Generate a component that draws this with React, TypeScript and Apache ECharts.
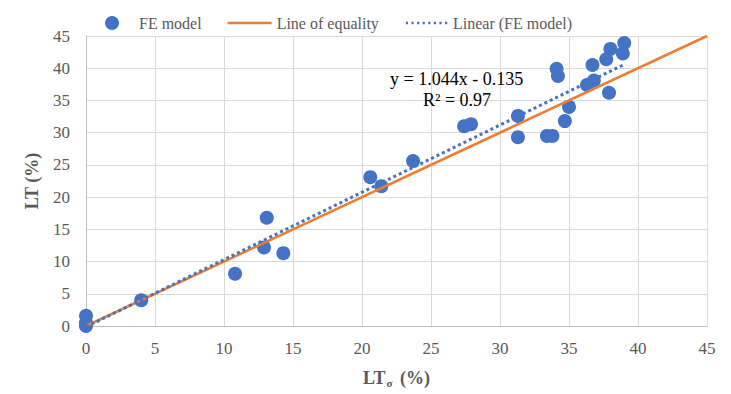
import React, { useEffect, useRef } from "react";
import * as echarts from "echarts";

const feX = [0, 0, 0, 0, 4, 10.8, 12.9, 13.1, 14.3, 20.6, 21.4, 23.7, 27.4, 27.9, 31.3, 31.3, 33.4, 33.8, 34.1, 34.2, 35.0, 34.7, 36.3, 36.8, 36.7, 37.7, 37.9, 38.0, 39.0, 38.9];
const feY = [1.6, 0.5, 0.2, 0, 4.0, 8.1, 12.2, 16.8, 11.3, 23.1, 21.7, 25.6, 31.0, 31.3, 32.6, 29.3, 29.5, 29.5, 39.9, 38.8, 34.0, 31.8, 37.4, 38.1, 40.5, 41.4, 36.2, 43.0, 43.9, 42.3];
const equalityX = [0, 45];
const trendX = [0, 39.1];
const slope = 1.044;
const intercept = -0.135;

const FONT = "Liberation Serif";
const TXT = "#595959";

const solidIcon = "path://M0 0H0.01V0.01H0Z M0 14H0.01V14.01H0Z M0 5.75H44V8.25H0Z";
const dotIcon =
  "path://M0 0H0.01V0.01H0Z M0 14H0.01V14.01H0Z " +
  Array.from({ length: 8 }, (_, i) => `M${1 + i * 5.6} 5.8H${3.2 + i * 5.6}V8.2H${1 + i * 5.6}Z`).join(" ");

export default function App() {
  const ref = useRef<HTMLDivElement>(null);
  useEffect(() => {
    if (!ref.current) return;
    const chart = echarts.init(ref.current, undefined, { renderer: "svg" });
    chart.setOption({
      animation: false,
      textStyle: { fontFamily: FONT },
      legend: {
        top: 10,
        left: 100,
        itemGap: 26,
        itemWidth: 44,
        itemHeight: 14,
        textStyle: { fontFamily: FONT, fontSize: 16, color: TXT },
        data: [
          { name: "FE model", icon: "circle", itemStyle: { color: "#4472C4", opacity: 1 } },
          { name: "Line of equality", icon: solidIcon, itemStyle: { color: "#ED7D31" } },
          { name: "Linear (FE model)", icon: dotIcon, itemStyle: { color: "#4472C4" } },
        ],
      },
      grid: { left: 86, right: 24, top: 36, bottom: 68 },
      xAxis: {
        type: "value",
        min: 0,
        max: 45,
        interval: 5,
        axisLine: { lineStyle: { color: "#bfbfbf" } },
        axisTick: { show: false },
        splitLine: { lineStyle: { color: "#d9d9d9", width: 1 } },
        axisLabel: { fontFamily: FONT, fontSize: 17, color: TXT, margin: 14 },
        name: "{b|LT}{s|σ}{b| (%)}",
        nameLocation: "middle",
        nameGap: 42,
        nameTextStyle: {
          fontFamily: FONT,
          rich: {
            b: { fontFamily: FONT, fontSize: 18, fontWeight: "bold", color: TXT, lineHeight: 20 },
            s: { fontFamily: FONT, fontSize: 11, fontWeight: "bold", color: TXT, lineHeight: 20, verticalAlign: "bottom", padding: [9, 3, 0, 1] },
          },
        },
      },
      yAxis: {
        type: "value",
        min: 0,
        max: 45,
        interval: 5,
        axisLine: { show: true, lineStyle: { color: "#bfbfbf" } },
        axisTick: { show: false },
        splitLine: { lineStyle: { color: "#d9d9d9", width: 1 } },
        axisLabel: { fontFamily: FONT, fontSize: 17, color: TXT, margin: 16 },
        name: "LT (%)",
        nameLocation: "middle",
        nameGap: 45,
        nameTextStyle: { fontFamily: FONT, fontSize: 18, fontWeight: "bold", color: TXT },
      },
      series: [
        {
          name: "FE model",
          type: "scatter",
          symbol: "circle",
          symbolSize: 14,
          itemStyle: { color: "#4472C4", opacity: 1 },
          data: feX.map((x, i) => [x, feY[i]]),
          z: 2,
        },
        {
          name: "Line of equality",
          type: "line",
          symbol: "none",
          lineStyle: { color: "#ED7D31", width: 2.5 },
          itemStyle: { color: "#ED7D31" },
          data: equalityX.map((x) => [x, x]),
          z: 3,
        },
        {
          name: "Linear (FE model)",
          type: "line",
          symbol: "none",
          lineStyle: { color: "#4472C4", width: 3, type: "dotted" },
          itemStyle: { color: "#4472C4" },
          data: trendX.map((x) => [x, slope * x + intercept]),
          z: 4,
        },
      ],
      graphic: [
        {
          type: "text",
          left: 390,
          top: 70,
          z: 10,
          style: { text: "y = 1.044x - 0.135", fontFamily: FONT, fontSize: 18, fill: "#000" },
        },
        {
          type: "text",
          left: 423,
          top: 91,
          z: 10,
          style: { text: "R² = 0.97", fontFamily: FONT, fontSize: 18, fill: "#000" },
        },
      ],
    });
    return () => chart.dispose();
  }, []);
  return <div ref={ref} style={{ width: 731, height: 394, position: "absolute", left: 0, top: 0 }} />;
}
